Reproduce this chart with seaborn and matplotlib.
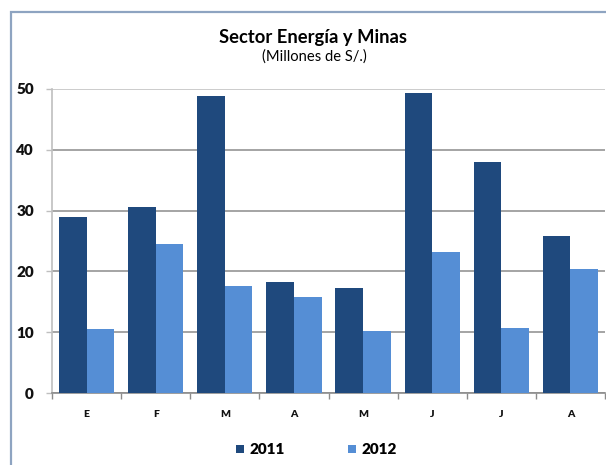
import matplotlib
matplotlib.use("Agg")
import matplotlib.pyplot as plt
from matplotlib.patches import Rectangle
import seaborn as sns
import pandas as pd
import numpy as np

# Monthly figures, millions of soles
months = ["Ene", "Feb", "Mar", "Abr", "May", "Jun", "Jul", "Ago"]
month_labels = ["E", "F", "M", "A", "M", "J", "J", "A"]
values_2011 = [29.0, 30.6, 48.8, 18.3, 17.3, 49.3, 38.0, 25.9]
values_2012 = [10.5, 24.5, 17.6, 15.8, 10.2, 23.2, 10.7, 20.4]
years = ["2011", "2012"]
colors = ["#1F497D", "#558ED5"]

df = pd.DataFrame({
    "mes": months * 2,
    "valor": values_2011 + values_2012,
    "anio": [years[0]] * len(months) + [years[1]] * len(months),
})

sns.set_theme(style="white")
plt.rcParams["font.family"] = ["Lato", "DejaVu Sans"]

W, H = 606, 465
fig = plt.figure(figsize=(W / 100, H / 100), dpi=100)
ax = fig.add_axes([52 / W, (H - 393) / H, (605 - 52) / W, (393 - 89) / H])

sns.barplot(data=df, x="mes", y="valor", hue="anio", order=months,
            hue_order=years, palette=colors, width=0.8, saturation=1,
            edgecolor="none", linewidth=0, legend=False, ax=ax, zorder=3)

ax.set_ylim(0, 50)
ax.set_xlim(-0.5, len(months) - 0.5)
ax.set_yticks(np.arange(0, 51, 10))
ax.set_yticklabels([str(v) for v in range(0, 51, 10)], fontsize=11,
                   fontweight="heavy", color="#111111")
ax.yaxis.grid(True, color="#8C8C8C", linewidth=1.1, zorder=0)
ax.set_axisbelow(True)
# top gridline is drawn lighter
ax.get_ygridlines()[-1].set_color("#BFBFBF")

ax.set_xticks(range(len(months)))
ax.set_xticklabels(month_labels, fontsize=7.5, fontweight="heavy",
                   color="#111111")
ax.set_xticks(np.arange(-0.5, len(months) + 0.5, 1), minor=True)
ax.tick_params(axis="x", which="major", length=0, pad=12)
ax.tick_params(axis="x", which="minor", length=4, width=1, color="#8C8C8C",
               direction="out", bottom=True)
ax.tick_params(axis="y", which="major", length=4, width=1, color="#BFBFBF",
               direction="out", left=True, pad=9)
ax.set_xlabel("")
ax.set_ylabel("")

for side in ["top", "right"]:
    ax.spines[side].set_visible(False)
ax.spines["left"].set_color("#BFBFBF")
ax.spines["left"].set_linewidth(1.2)
ax.spines["bottom"].set_color("#8C8C8C")
ax.spines["bottom"].set_linewidth(1.2)

# Chart title and units
fig.text(313 / W, 1 - 37 / H, "Sector Energía y Minas", ha="center",
         va="center", fontsize=13.2, fontweight="bold", color="#000000")
fig.text(314 / W, 1 - 57 / H, "(Millones de S/.)", ha="center",
         va="center", fontsize=10.6, color="#000000")

# Legend
for x_sq, x_txt, label, c in [(236, 250, years[0], colors[0]),
                              (348, 362, years[1], colors[1])]:
    fig.add_artist(Rectangle((x_sq / W, 1 - 453 / H), 8 / W, 8 / H,
                             transform=fig.transFigure, facecolor=c,
                             edgecolor="none"))
    fig.text(x_txt / W, 1 - 449 / H, label, ha="left", va="center",
             fontsize=11, fontweight="heavy", color="#000000")

# Outer chart frame
fig.add_artist(Rectangle((11 / W, -0.05), 1.0, 1.05 - 12 / H,
                         transform=fig.transFigure, facecolor="none",
                         edgecolor="#8EA4C1", linewidth=1.6))

fig.savefig("out.png", dpi=100)
